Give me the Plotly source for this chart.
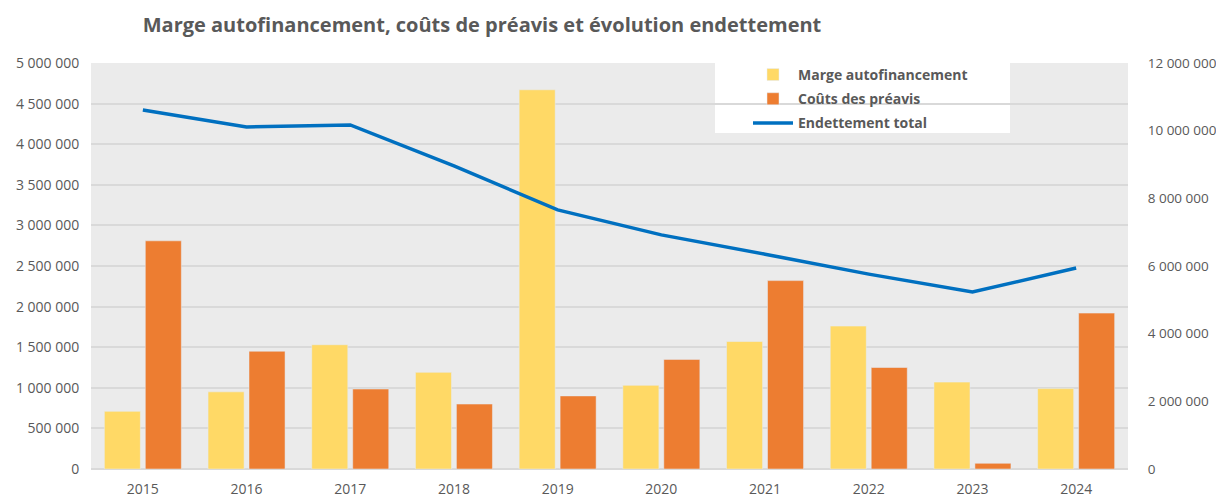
import plotly.graph_objects as go

annees = ['2015', '2016', '2017', '2018', '2019', '2020', '2021', '2022', '2023', '2024']
marge_autofinancement = [710000, 950000, 1530000, 1190000, 4670000, 1030000, 1570000, 1760000, 1070000, 990000]
couts_preavis = [2810000, 1450000, 985000, 800000, 900000, 1350000, 2320000, 1250000, 70000, 1920000]
endettement_total = [10610000, 10110000, 10170000, 8960000, 7660000, 6920000, 6350000, 5760000, 5230000, 5940000]

GRIS_TEXTE = '#595959'
LARGEUR, HAUTEUR = 1216, 497
MARGES = dict(l=91, r=88, t=63, b=28)
LARG_TRACE = LARGEUR - MARGES['l'] - MARGES['r']
HAUT_TRACE = HAUTEUR - MARGES['t'] - MARGES['b']

fig = go.Figure()
fig.add_trace(go.Bar(
    name='Marge autofinancement',
    x=annees,
    y=marge_autofinancement,
    marker_color='#FFD966',
    legendgroup='a',
))
fig.add_trace(go.Bar(
    name='Coûts des préavis',
    x=annees,
    y=couts_preavis,
    marker_color='#ED7D31',
    legendgroup='b',
))
fig.add_trace(go.Scatter(
    name='Endettement total',
    x=annees,
    y=endettement_total,
    mode='lines',
    line=dict(color='#0070C0', width=3.5),
    yaxis='y2',
    legendgroup='c',
))

# fond blanc du cadre de légende
fig.add_shape(
    type='rect', xref='paper', yref='paper',
    x0=(715 - MARGES['l']) / LARG_TRACE,
    x1=(1010 - MARGES['l']) / LARG_TRACE,
    y0=1 - (133 - MARGES['t']) / HAUT_TRACE, y1=1,
    fillcolor='white', line_width=0, layer='below',
)

fig.update_layout(
    title=dict(
        text='<b>Marge autofinancement, coûts de préavis et évolution endettement</b>',
        x=482 / LARGEUR, xanchor='center', y=1 - 25 / HAUTEUR, yanchor='middle',
        font=dict(family='Open Sans', size=20, color=GRIS_TEXTE),
        automargin=False,
    ),
    width=LARGEUR,
    height=HAUTEUR,
    margin=MARGES,
    paper_bgcolor='white',
    plot_bgcolor='#EBEBEB',
    separators=', ',
    barmode='group',
    bargap=0.21,
    bargroupgap=0.12,
    font=dict(family='Open Sans', size=14, color=GRIS_TEXTE),
    legend=dict(
        x=(748 - MARGES['l']) / LARG_TRACE, y=1.01, xanchor='left', yanchor='top',
        bgcolor='rgba(0,0,0,0)',
        font=dict(family='Open Sans', size=14, color=GRIS_TEXTE, weight='bold'),
        traceorder='grouped',
        tracegroupgap=3,
        itemwidth=40,
    ),
    xaxis=dict(
        automargin=False,
        showgrid=False,
        tickfont=dict(size=14),
        showline=True, linecolor='#D9D9D9', linewidth=1,
        ticks='outside', ticklen=7, tickcolor='rgba(0,0,0,0)',
    ),
    yaxis=dict(
        automargin=False,
        range=[0, 5000000],
        dtick=500000,
        tickformat=',d',
        gridcolor='#D9D9D9',
        gridwidth=1.5,
        zeroline=True, zerolinecolor='#D9D9D9', zerolinewidth=1.5,
        ticks='outside', ticklen=8, tickcolor='rgba(0,0,0,0)',
    ),
    yaxis2=dict(
        automargin=False,
        range=[0, 12000000],
        dtick=2000000,
        tickformat=',d',
        tickfont=dict(size=13.5),
        overlaying='y',
        side='right',
        showgrid=False,
        zeroline=False,
        ticks='outside', ticklen=16, tickcolor='rgba(0,0,0,0)',
    ),
)

fig.write_html(
    'out.html',
    config={'displayModeBar': False},
    post_script="document.body.style.margin='0';",
)
